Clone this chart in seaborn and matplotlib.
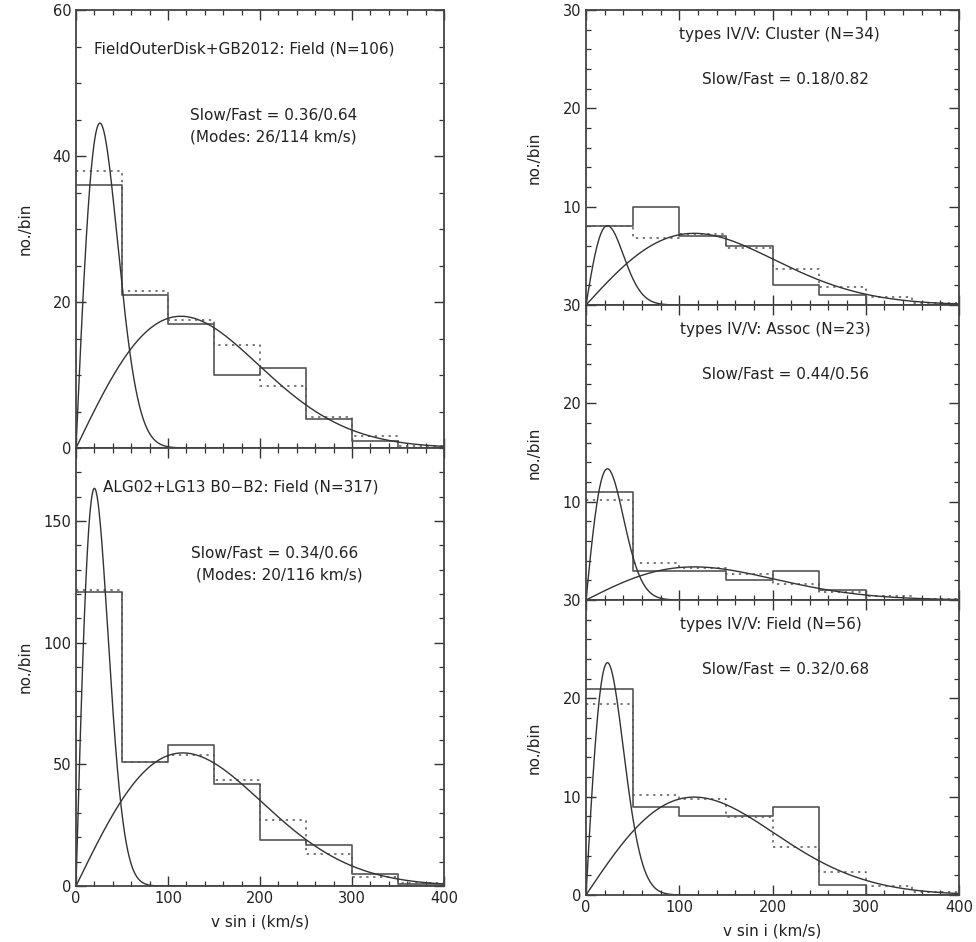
import numpy as np
import matplotlib
matplotlib.use("Agg")
import matplotlib.pyplot as plt
from matplotlib.ticker import MultipleLocator, FuncFormatter
import seaborn as sns

# v sin i bins (km/s)
bin_edges = [0, 50, 100, 150, 200, 250, 300, 350, 400]

# observed counts per bin (solid) and two-component model counts per bin (dotted)
obs_field_outer = [36, 21, 17, 10, 11, 4, 1, 0]
mod_field_outer = [38.0, 21.5, 17.6, 14.1, 8.5, 4.2, 1.6, 0.3]

obs_alg_field = [121, 51, 58, 42, 19, 17, 5, 1]
mod_alg_field = [121.5, 50.9, 53.8, 43.5, 27.1, 13.0, 3.8, 1.1]

obs_iv_cluster = [8, 10, 7, 6, 2, 1, 0, 0]
mod_iv_cluster = [8.0, 6.8, 7.2, 5.8, 3.65, 1.8, 0.8, 0.2]

obs_iv_assoc = [11, 3, 3, 2, 3, 1, 0, 0]
mod_iv_assoc = [10.2, 3.8, 3.3, 2.65, 1.6, 0.85, 0.4, 0.15]

obs_iv_field = [21, 9, 8, 8, 9, 1, 0, 0]
mod_iv_field = [19.4, 10.2, 9.8, 7.9, 4.9, 2.35, 0.95, 0.3]

# sample sizes, slow/fast fractions and component modes (km/s)
n_stars = [106, 317, 34, 23, 56]
slow_frac = [0.36, 0.34, 0.18, 0.44, 0.32]
fast_frac = [0.64, 0.66, 0.82, 0.56, 0.68]
slow_mode = [26, 20, 23, 23, 23]
fast_mode = [114, 116, 116, 116, 116]

titles = [
    "FieldOuterDisk+GB2012: Field (N=106)",
    "ALG02+LG13 B0\u2212B2: Field (N=317)",
    "types IV/V: Cluster (N=34)",
    "types IV/V: Assoc (N=23)",
    "types IV/V: Field (N=56)",
]
ratio_labels = [
    "Slow/Fast = 0.36/0.64",
    "Slow/Fast = 0.34/0.66",
    "Slow/Fast = 0.18/0.82",
    "Slow/Fast = 0.44/0.56",
    "Slow/Fast = 0.32/0.68",
]
mode_labels = ["(Modes: 26/114 km/s)", "(Modes: 20/116 km/s)", None, None, None]

observed = [obs_field_outer, obs_alg_field, obs_iv_cluster, obs_iv_assoc, obs_iv_field]
modelled = [mod_field_outer, mod_alg_field, mod_iv_cluster, mod_iv_assoc, mod_iv_field]

sns.set_style("white")
plt.rcParams["font.family"] = ["DejaVu Sans"]
plt.rcParams["font.size"] = 11

W, H = 976, 942
fig = plt.figure(figsize=(W / 100, H / 100), dpi=100)


def frac_rect(x0, x1, ytop, ybot):
    return [x0 / W, 1 - ybot / H, (x1 - x0) / W, (ybot - ytop) / H]


axes = [
    fig.add_axes(frac_rect(76, 444, 10, 448)),
    fig.add_axes(frac_rect(76, 444, 448, 886)),
    fig.add_axes(frac_rect(586, 959, 10, 305)),
    fig.add_axes(frac_rect(586, 959, 305, 600)),
    fig.add_axes(frac_rect(586, 959, 600, 895)),
]
ylims = [60, 180, 30, 30, 30]
ymajor = [20, 50, 10, 10, 10]
yminor = [5, 10, 2, 2, 2]
title_x = [0.049, 0.073, 0.249, 0.252, 0.252]
ratio_x = [0.31, 0.312, 0.311, 0.311, 0.311]
ratio_y = [0.76, 0.76, 0.766, 0.766, 0.766]
mode_x = [0.31, 0.326]
# stacked right-hand panels share their boundary label with the panel below
hide_zero_label = [False, False, True, True, False]

ink = "#333333"
centers = [(a + b) / 2 for a, b in zip(bin_edges[:-1], bin_edges[1:])]
binw = 50.0
v = np.linspace(0, 400, 801)

for i, ax in enumerate(axes):
    sns.histplot(x=centers, weights=observed[i], bins=bin_edges, element="step",
                 fill=False, color="#555555", linewidth=1.2, ax=ax)
    sns.histplot(x=centers, weights=modelled[i], bins=bin_edges, element="step",
                 fill=False, color="#555555", linewidth=1.1, linestyle=(0, (1.5, 3)), ax=ax)
    # Rayleigh-shaped slow and fast components, scaled to counts per bin
    for frac, mode in ((slow_frac[i], slow_mode[i]), (fast_frac[i], fast_mode[i])):
        comp = n_stars[i] * frac * binw * v / mode**2 * np.exp(-v**2 / (2 * mode**2))
        sns.lineplot(x=v, y=comp, color=ink, linewidth=1.0, estimator=None, ax=ax)

    ax.set_xlim(0, 400)
    ax.set_ylim(0, ylims[i])
    ax.xaxis.set_major_locator(MultipleLocator(100))
    ax.xaxis.set_minor_locator(MultipleLocator(20))
    ax.yaxis.set_major_locator(MultipleLocator(ymajor[i]))
    ax.yaxis.set_minor_locator(MultipleLocator(yminor[i]))
    if hide_zero_label[i]:
        ax.yaxis.set_major_formatter(FuncFormatter(lambda y, p: "" if y == 0 else f"{y:g}"))
    ax.tick_params(which="both", direction="in", top=True, right=True,
                   bottom=True, left=True, color=ink, labelsize=10.5, labelcolor="#222222")
    ax.tick_params(which="major", length=7, width=1.0)
    ax.tick_params(which="minor", length=3.5, width=0.9)
    for s in ax.spines.values():
        s.set_color("#444444")
        s.set_linewidth(1.3)
    ax.set_ylabel("no./bin", fontsize=11, color="#222222")
    if i in (1, 4):
        ax.set_xlabel("v sin i (km/s)", fontsize=11, color="#222222", labelpad=6)
    else:
        ax.set_xlabel("")
        ax.tick_params(labelbottom=False)

    ax.text(title_x[i], 0.911 if i < 2 else 0.917, titles[i], transform=ax.transAxes,
            ha="left", va="center", fontsize=11, color="#222222")
    ax.text(ratio_x[i], ratio_y[i], ratio_labels[i], transform=ax.transAxes,
            ha="left", va="center", fontsize=11, color="#222222")
    if mode_labels[i]:
        ax.text(mode_x[i], 0.71, mode_labels[i], transform=ax.transAxes,
                ha="left", va="center", fontsize=11, color="#222222")

for ax in axes[:2]:
    ax.yaxis.set_label_coords(-0.117, 0.5)
for ax in axes[2:]:
    ax.yaxis.set_label_coords(-0.12, 0.5)

fig.savefig("out.png", dpi=100)
